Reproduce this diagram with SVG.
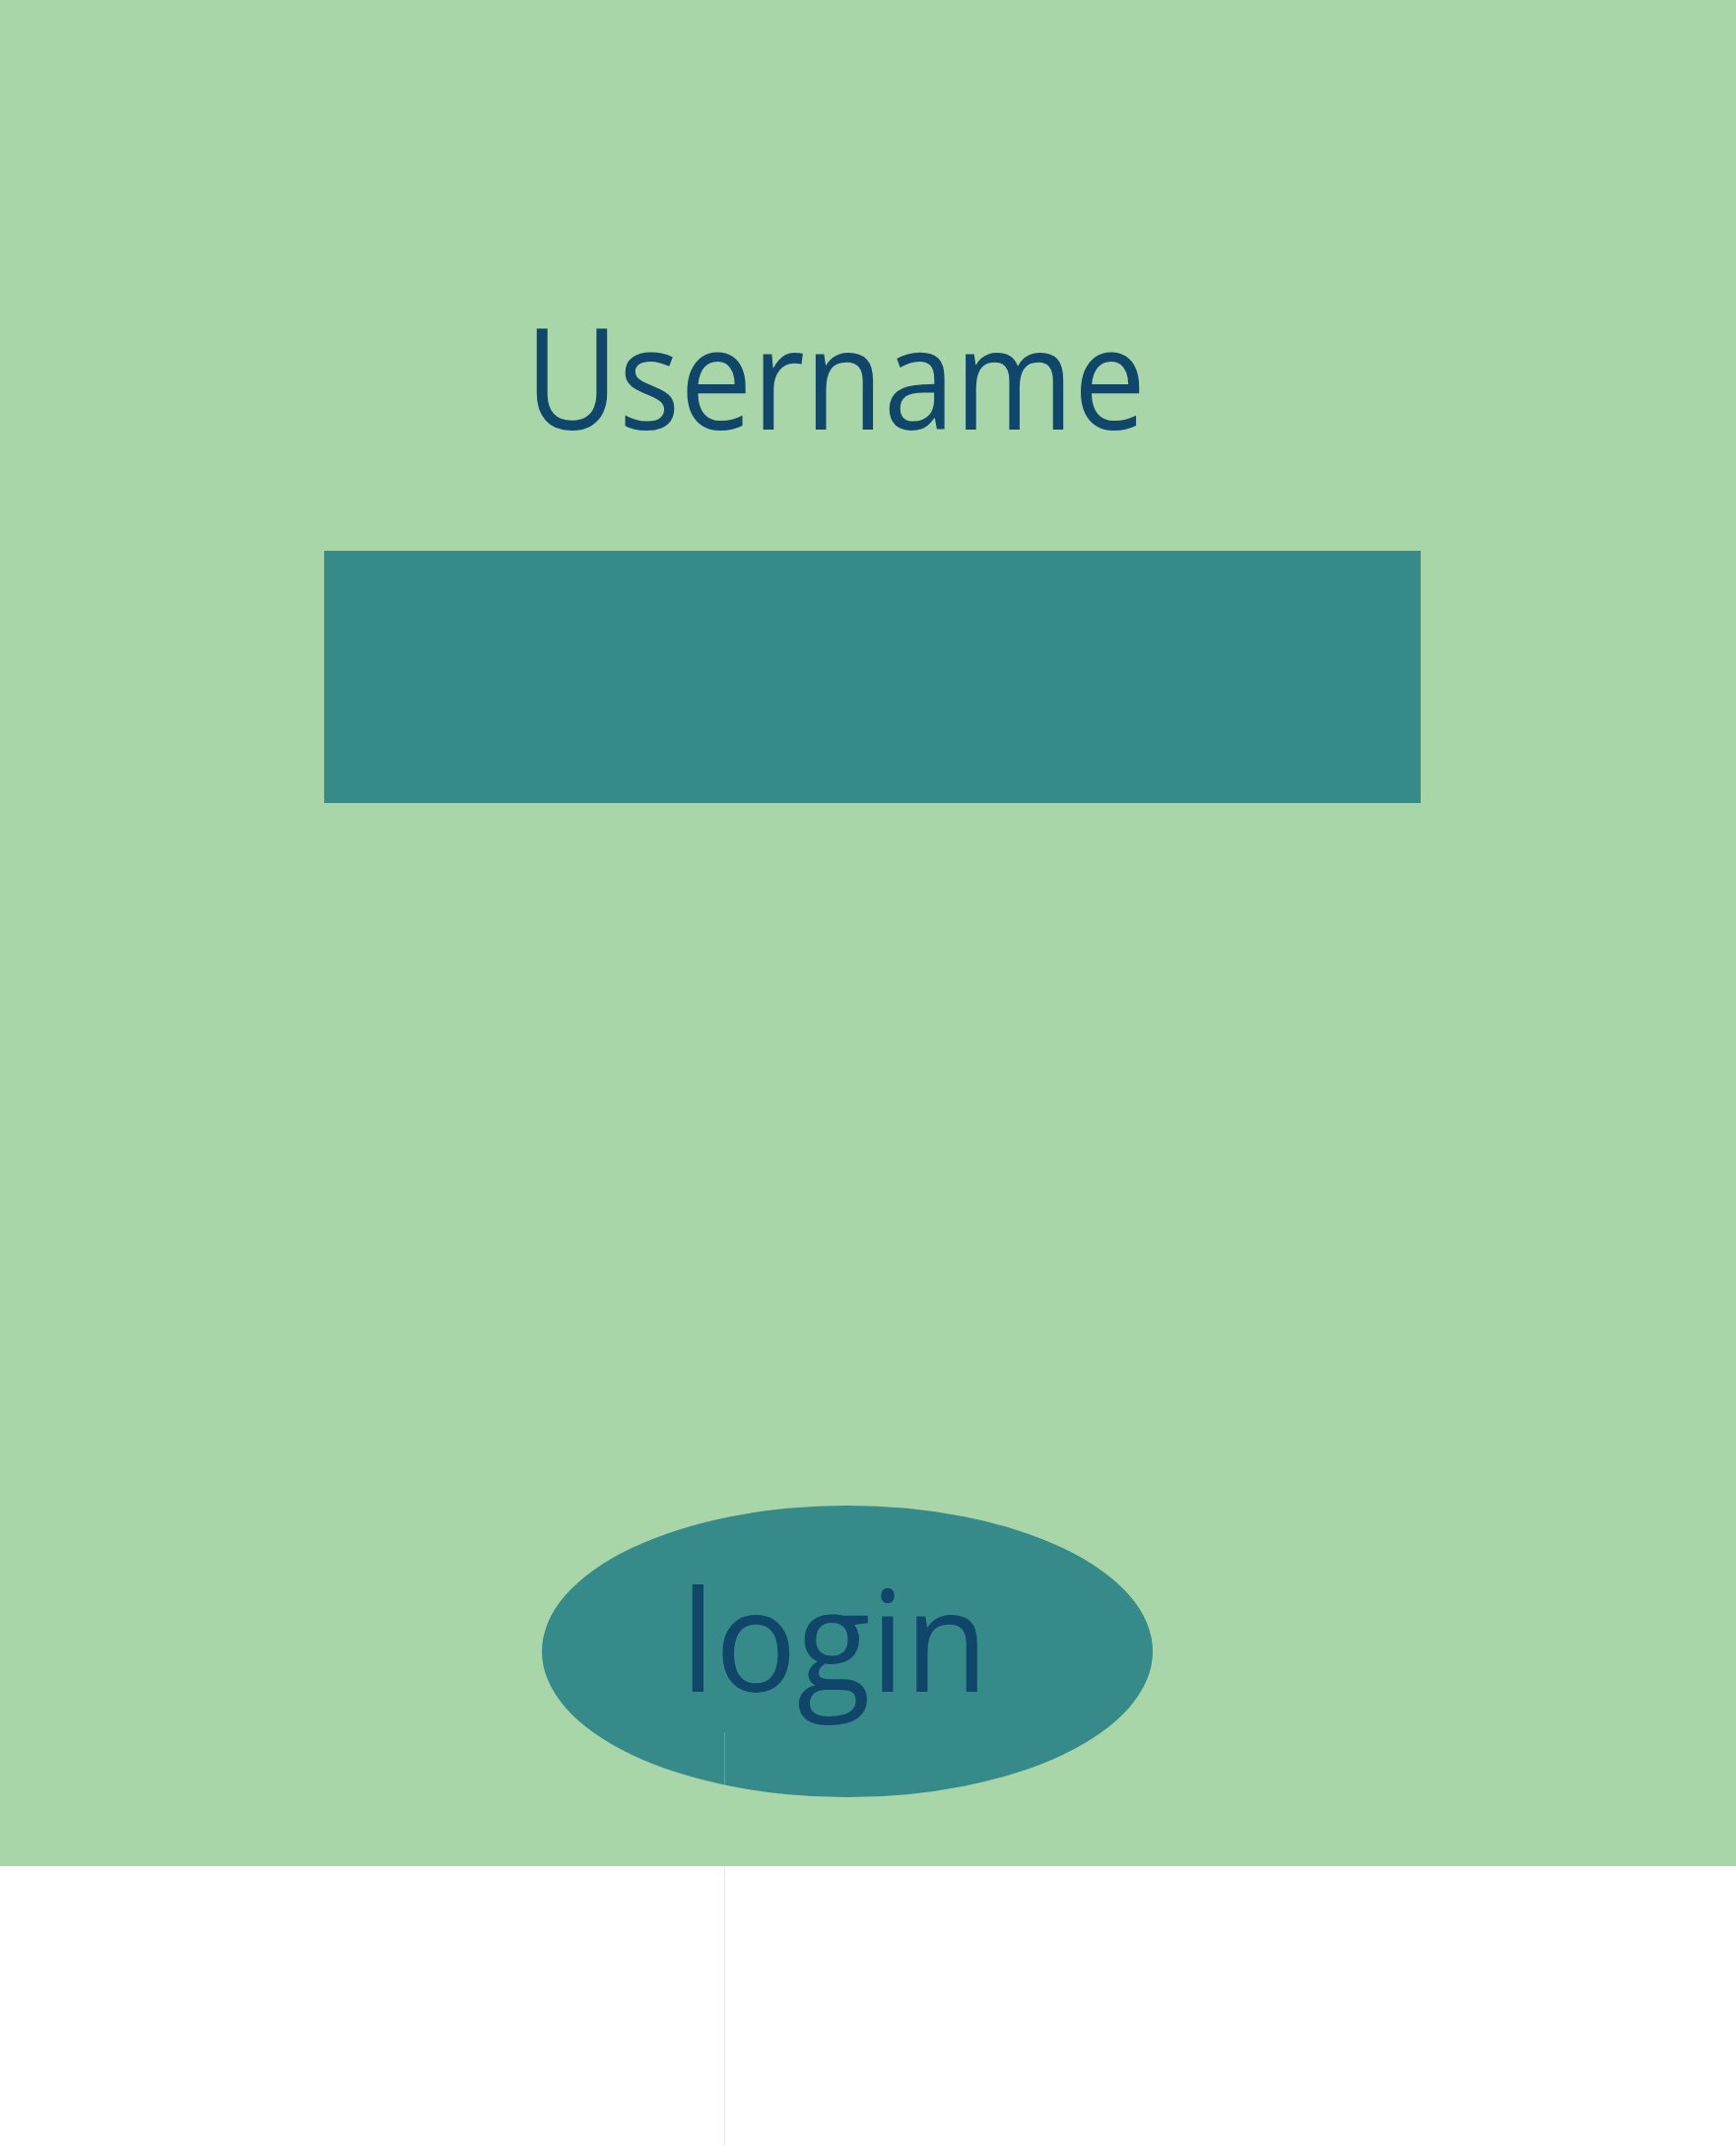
<svg xmlns="http://www.w3.org/2000/svg" width="1762" height="2178" viewBox="0 0 1762 2178">
<style>
.lbl{font-family:"Open Sans","Noto Sans",sans-serif;font-size:143px;font-weight:500;fill:#0f466a}
.box{fill:#368a8a}
</style>
<rect x="0" y="0" width="1762" height="2178" fill="#ffffff"/>
<rect id="background" x="0" y="0" width="1762" height="1894" fill="#a8d6a8"/>
<g id="username-label">
<text class="lbl" x="533" y="436" textLength="630" lengthAdjust="spacingAndGlyphs">Username</text>
</g>
<g id="username-field">
<rect class="box" x="329" y="559" width="1113" height="256"/>
</g>
<g id="login-button">
<ellipse class="box" cx="860" cy="1676" rx="310" ry="148"/>
<text class="lbl" x="691" y="1717" textLength="312" lengthAdjust="spacingAndGlyphs">login</text>
</g>
<g id="connectors">
<line x1="735.5" y1="1758" x2="735.5" y2="2178" stroke="#a8d6a8" stroke-opacity="0.35" stroke-width="1"/>
</g>
</svg>
